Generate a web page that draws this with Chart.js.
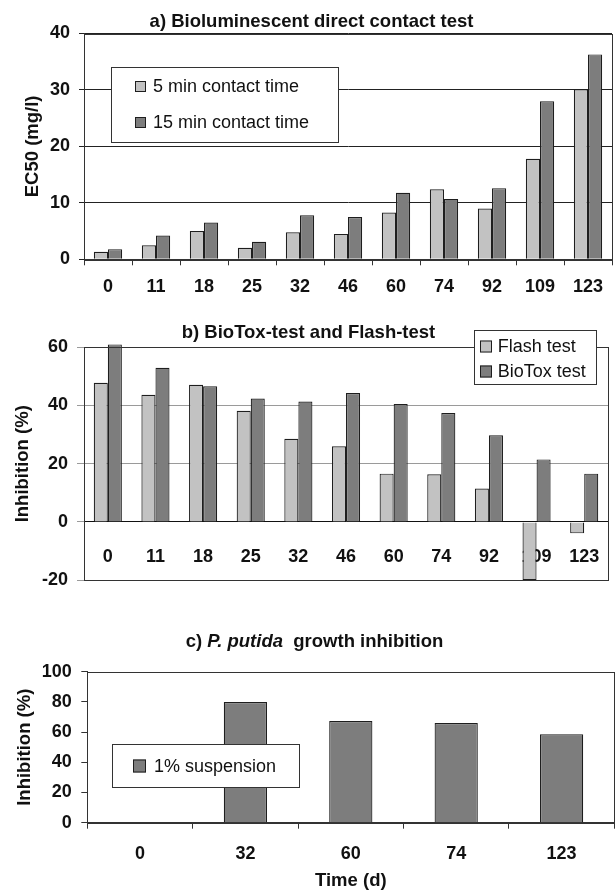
<!DOCTYPE html>
<html>
<head>
<meta charset="utf-8">
<script src="https://cdn.jsdelivr.net/npm/chart.js@4.4.1/dist/chart.umd.min.js"></script>
<style>
  body { margin: 0; background: #fff; }
  .panel { position: absolute; left: 0; }
</style>
</head>
<body>
<div class="panel" style="top:0"><canvas id="chartA" width="616" height="300"></canvas></div>
<div class="panel" style="top:300px"><canvas id="chartB" width="616" height="300"></canvas></div>
<div class="panel" style="top:600px"><canvas id="chartC" width="616" height="292"></canvas></div>
<script>
// days of sampling
const daysAB = ["0", "11", "18", "25", "32", "46", "60", "74", "92", "109", "123"]
const daysC = ["0", "32", "60", "74", "123"]

// a) EC50 (mg/l)
const ec50Min5 = [1.35, 2.5, 5.0, 2.05, 4.8, 4.5, 8.3, 12.4, 9.0, 17.8, 30.1]
const ec50Min15 = [1.8, 4.2, 6.5, 3.1, 7.8, 7.5, 11.8, 10.7, 12.6, 28.0, 36.3]

// b) inhibition (%)
const flashTest = [47.8, 43.7, 47.1, 38.2, 28.6, 26.0, 16.6, 16.4, 11.5, -20, -3.9]
const bioToxTest = [61, 53.0, 46.6, 42.4, 41.4, 44.3, 40.5, 37.4, 29.8, 21.5, 16.6]

// c) P. putida growth inhibition (%)
const suspension1 = [null, 79.9, 67.3, 66.0, 58.5]

const LIGHT = "#c2c2c2"
const DARK = "#7d7d7d"
const EDGE = "#1e1e1e"
const FAMILY = "'Liberation Sans', Arial, Helvetica, sans-serif"

Chart.defaults.font.family = FAMILY
Chart.defaults.color = "#111"

const tickFont = { size: 18, weight: "bold" }
const axisFont = { size: 18.5, weight: "bold" }

// box around the plot area
const frame = {
  id: "frame",
  afterDatasetsDraw(chart) {
    const { ctx, chartArea: a } = chart
    ctx.save()
    ctx.strokeStyle = "#333"
    ctx.lineWidth = 1
    ctx.strokeRect(Math.round(a.left) + 0.5, Math.round(a.top) + 0.5,
      Math.round(a.right - a.left), Math.round(a.bottom - a.top))
    ctx.restore()
  },
}

// title with mixed upright / italic parts
const makeTitle = (parts, cx, cy) => ({
  id: "panelTitle",
  afterDraw(chart) {
    const ctx = chart.ctx
    ctx.save()
    ctx.fillStyle = "#111"
    ctx.textBaseline = "middle"
    const fonts = parts.map((p) => `${p.italic ? "italic " : ""}bold 18.5px ${FAMILY}`)
    const widths = parts.map((p, i) => { ctx.font = fonts[i]; return ctx.measureText(p.text).width })
    let x = cx - widths.reduce((s, w) => s + w, 0) / 2
    parts.forEach((p, i) => {
      ctx.font = fonts[i]
      ctx.fillText(p.text, x, cy)
      x += widths[i]
    })
    ctx.restore()
  },
})

// legend drawn as a white box over the plot, like the original
const makeLegend = (box) => ({
  id: "boxLegend",
  afterDraw(chart) {
    const ctx = chart.ctx
    ctx.save()
    ctx.fillStyle = "#fff"
    ctx.fillRect(box.left, box.top, box.width, box.height)
    ctx.strokeStyle = "#333"
    ctx.lineWidth = 1
    ctx.strokeRect(box.left + 0.5, box.top + 0.5, box.width, box.height)
    ctx.font = `18px ${FAMILY}`
    ctx.textBaseline = "middle"
    chart.data.datasets.forEach((ds, i) => {
      const cy = box.firstRow + i * box.rowStep
      const s = box.swatch
      ctx.fillStyle = ds.backgroundColor
      ctx.fillRect(box.swatchX, cy - s / 2, s, s)
      ctx.strokeStyle = EDGE
      ctx.strokeRect(box.swatchX + 0.5, cy - s / 2 + 0.5, s - 1, s - 1)
      ctx.fillStyle = "#111"
      ctx.fillText(ds.label, box.textX, cy + 1)
    })
    ctx.restore()
  },
})

const barSet = (label, data, color, extra = {}) => ({
  label,
  data,
  backgroundColor: color,
  borderColor: EDGE,
  borderWidth: 1.2,
  categoryPercentage: 0.59,
  barPercentage: 1.0,
  ...extra,
})

const baseOptions = {
  responsive: false,
  animation: false,
  plugins: { legend: { display: false }, tooltip: { enabled: false }, title: { display: false } },
}

// a) Bioluminescent direct contact test
new Chart(document.getElementById("chartA"), {
  type: "bar",
  data: {
    labels: daysAB,
    datasets: [
      barSet("5 min contact time", ec50Min5, LIGHT),
      barSet("15 min contact time", ec50Min15, DARK),
    ],
  },
  options: {
    ...baseOptions,
    layout: { padding: { top: 33.5, right: 4, bottom: 0, left: 0 } },
    scales: {
      x: {
        ticks: { font: tickFont, padding: 10.9, maxRotation: 0, autoSkip: false },
        grid: { drawOnChartArea: false, tickLength: 6, color: "#333" },
        border: { color: "#333" },
        afterFit: (s) => { s.height = 40.7 },
      },
      y: {
        min: 0,
        max: 40,
        ticks: { stepSize: 10, font: tickFont, padding: 9 },
        grid: { color: "#222", tickLength: 5 },
        border: { color: "#333" },
        title: { display: true, text: "EC50 (mg/l)", font: axisFont, padding: { top: 21.9, bottom: 0 } },
        afterFit: (s) => { s.width = 84 },
      },
    },
  },
  plugins: [
    frame,
    makeTitle([{ text: "a) Bioluminescent direct contact test" }], 311.5, 21.5),
    makeLegend({ left: 111, top: 67, width: 227, height: 75, swatchX: 135, swatch: 11, textX: 153, firstRow: 86.5, rowStep: 36 }),
  ],
})

// b) BioTox-test and Flash-test
new Chart(document.getElementById("chartB"), {
  type: "bar",
  data: {
    labels: daysAB,
    datasets: [
      barSet("Flash test", flashTest, LIGHT),
      barSet("BioTox test", bioToxTest, DARK, { clip: false }),
    ],
  },
  options: {
    ...baseOptions,
    layout: { padding: { top: 47.3, right: 4, bottom: 11.5, left: 0 } },
    scales: {
      x: {
        position: { y: 0 },
        ticks: { font: tickFont, padding: 16.6, maxRotation: 0, autoSkip: false },
        grid: { display: false },
        border: { display: true, color: "#111" },
      },
      y: {
        min: -20,
        max: 60,
        ticks: { stepSize: 20, font: tickFont, padding: 9 },
        grid: { color: "#9a9a9a", tickLength: 7 },
        border: { color: "#333" },
        title: { display: true, text: "Inhibition (%)", font: axisFont, padding: { top: 11.9, bottom: 0 } },
        afterFit: (s) => { s.width = 84 },
      },
    },
  },
  plugins: [
    frame,
    makeTitle([{ text: "b) BioTox-test and Flash-test" }], 308.5, 33),
    makeLegend({ left: 474, top: 30, width: 122, height: 54, swatchX: 480, swatch: 12, textX: 497.7, firstRow: 46.5, rowStep: 25 }),
  ],
})

// c) P. putida growth inhibition
new Chart(document.getElementById("chartC"), {
  type: "bar",
  data: {
    labels: daysC,
    datasets: [
      barSet("1% suspension", suspension1, DARK, { categoryPercentage: 0.41 }),
    ],
  },
  options: {
    ...baseOptions,
    layout: { padding: { top: 71.7, right: 1.7, bottom: 0, left: 0 } },
    scales: {
      x: {
        ticks: { font: tickFont, padding: 14.5, maxRotation: 0, autoSkip: false },
        grid: { drawOnChartArea: false, tickLength: 6, color: "#333" },
        border: { color: "#333" },
        title: { display: true, text: "Time (d)", font: axisFont, padding: { top: 0, bottom: 0 } },
        afterFit: (s) => { s.height = 69.3 },
      },
      y: {
        min: 0,
        max: 100,
        ticks: { stepSize: 20, font: tickFont, padding: 9.6 },
        grid: { drawOnChartArea: false, tickLength: 6, color: "#333" },
        border: { color: "#333" },
        title: { display: true, text: "Inhibition (%)", font: axisFont, padding: { top: 13.9, bottom: 0 } },
        afterFit: (s) => { s.width = 87.3 },
      },
    },
  },
  plugins: [
    frame,
    makeTitle([{ text: "c) " }, { text: "P. putida", italic: true }, { text: "  growth inhibition" }], 314.5, 41.5),
    makeLegend({ left: 112, top: 144, width: 187, height: 43, swatchX: 133, swatch: 13, textX: 154, firstRow: 166, rowStep: 0 }),
  ],
})
</script>
</body>
</html>
